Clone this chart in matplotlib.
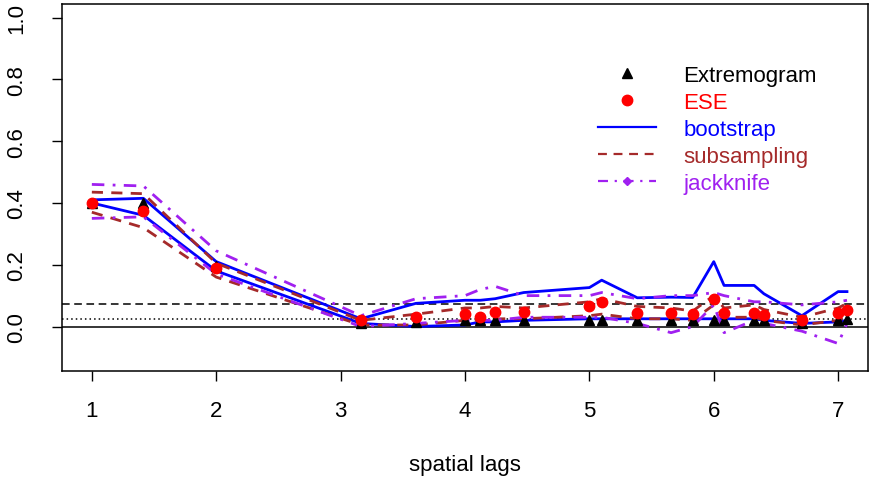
import numpy as np
import matplotlib.pyplot as plt
from matplotlib.lines import Line2D

# spatial lags (distinct grid distances)
lag_sq = [1, 2, 4, 10, 13, 16, 17, 18, 20, 25, 26, 29, 32, 34, 36, 37, 40, 41, 45, 49, 50]
lags = np.sqrt(lag_sq)

extremogram = [0.40, 0.40, 0.195, 0.01, 0.015, 0.02, 0.02, 0.02, 0.02, 0.02, 0.02,
               0.02, 0.02, 0.02, 0.02, 0.02, 0.02, 0.02, 0.01, 0.02, 0.025]
ese = [0.40, 0.375, 0.19, 0.02, 0.032, 0.04, 0.032, 0.048, 0.048, 0.065, 0.078,
       0.045, 0.045, 0.039, 0.09, 0.045, 0.045, 0.036, 0.02, 0.045, 0.052]

boot_up = [0.41, 0.415, 0.21, 0.025, 0.075, 0.085, 0.085, 0.09, 0.11, 0.126, 0.15,
           0.093, 0.095, 0.094, 0.21, 0.133, 0.133, 0.106, 0.035, 0.113, 0.113]
boot_lo = [0.40, 0.36, 0.18, 0.01, 0.0, 0.005, 0.015, 0.015, 0.02, 0.025, 0.025,
           0.025, 0.025, 0.025, 0.025, 0.025, 0.025, 0.02, 0.01, 0.015, 0.02]

sub_up = [0.435, 0.43, 0.205, 0.02, 0.04, 0.06, 0.06, 0.065, 0.06, 0.08, 0.09,
          0.065, 0.06, 0.05, 0.10, 0.06, 0.07, 0.055, 0.03, 0.06, 0.075]
sub_lo = [0.37, 0.32, 0.16, 0.005, 0.005, 0.02, 0.02, 0.025, 0.025, 0.035, 0.04,
          0.025, 0.025, 0.02, 0.07, 0.03, 0.03, 0.02, 0.005, 0.02, 0.03]

jack_up = [0.46, 0.455, 0.245, 0.035, 0.09, 0.10, 0.12, 0.13, 0.10, 0.10, 0.11,
           0.09, 0.10, 0.10, 0.11, 0.10, 0.08, 0.08, 0.07, 0.08, 0.085]
jack_lo = [0.35, 0.355, 0.17, 0.0, 0.01, 0.02, 0.02, 0.02, 0.03, 0.03, 0.03,
           0.01, -0.02, 0.0, 0.07, -0.02, 0.02, 0.01, -0.015, -0.055, 0.01]

# reference levels
zero_level = 0.0
dotted_level = 0.023
dashed_level = 0.074

plt.rcParams['font.family'] = ['Liberation Sans', 'DejaVu Sans']
plt.rcParams['font.size'] = 16

BLUE = '#0000FF'
BROWN = '#A52A2A'
PURPLE = '#A020F0'
SUB_DASH = (0, (4, 3))
JACK_DASH = (0, (4.5, 3, 1, 3))

fig = plt.figure(figsize=(8.7, 4.81), dpi=100)
ax = fig.add_axes([62 / 870, 109 / 481, 806 / 870, 367 / 481])

ax.axhline(zero_level, color='black', lw=1.1)
ax.axhline(dotted_level, color='black', lw=1.1, linestyle=(0, (1, 2)))
ax.axhline(dashed_level, color='black', lw=1.1, linestyle=(0, (5, 3)))

for y in (boot_up, boot_lo):
    ax.plot(lags, y, color=BLUE, lw=2.0)
for y in (sub_up, sub_lo):
    ax.plot(lags, y, color=BROWN, lw=2.0, linestyle=SUB_DASH)
for y in (jack_up, jack_lo):
    ax.plot(lags, y, color=PURPLE, lw=2.0, linestyle=JACK_DASH)

ax.plot(lags, extremogram, '^', color='black', markersize=7.5, linestyle='none')
ax.plot(lags, ese, 'o', color='red', markersize=7.5, linestyle='none')

ax.set_xlim(0.76, 7.24)
ax.set_ylim(-0.144, 1.044)
ax.set_xticks([1, 2, 3, 4, 5, 6, 7])
ax.set_yticks([0.0, 0.2, 0.4, 0.6, 0.8, 1.0])
ax.set_yticklabels(['0.0', '0.2', '0.4', '0.6', '0.8', '1.0'], rotation=90, va='center')
ax.tick_params(direction='out', length=7, width=1, labelsize=16)
ax.tick_params(axis='x', pad=14)
ax.tick_params(axis='y', pad=18)
ax.set_xlabel('spatial lags', fontsize=16, labelpad=24)
for s in ax.spines.values():
    s.set_linewidth(1.1)

handles = [
    Line2D([], [], marker='^', color='black', linestyle='none', markersize=7.5),
    Line2D([], [], marker='o', color='red', linestyle='none', markersize=7.5),
    Line2D([], [], color=BLUE, lw=1.6),
    Line2D([], [], color=BROWN, lw=1.6, linestyle=SUB_DASH),
    Line2D([], [], color=PURPLE, lw=1.6, linestyle=JACK_DASH,
           marker='D', markersize=4),
]
labels = ['Extremogram', 'ESE', 'bootstrap', 'subsampling', 'jackknife']
leg = ax.legend(handles, labels, loc='upper left', bbox_to_anchor=(0.665, 0.835),
                frameon=False, handlelength=2.6, handletextpad=1.25,
                labelspacing=0.27, borderpad=0, borderaxespad=0, fontsize=16,
                markerfirst=True)
for txt, c in zip(leg.get_texts(), ['black', 'red', BLUE, BROWN, PURPLE]):
    txt.set_color(c)

fig.savefig('out.png', dpi=100)
